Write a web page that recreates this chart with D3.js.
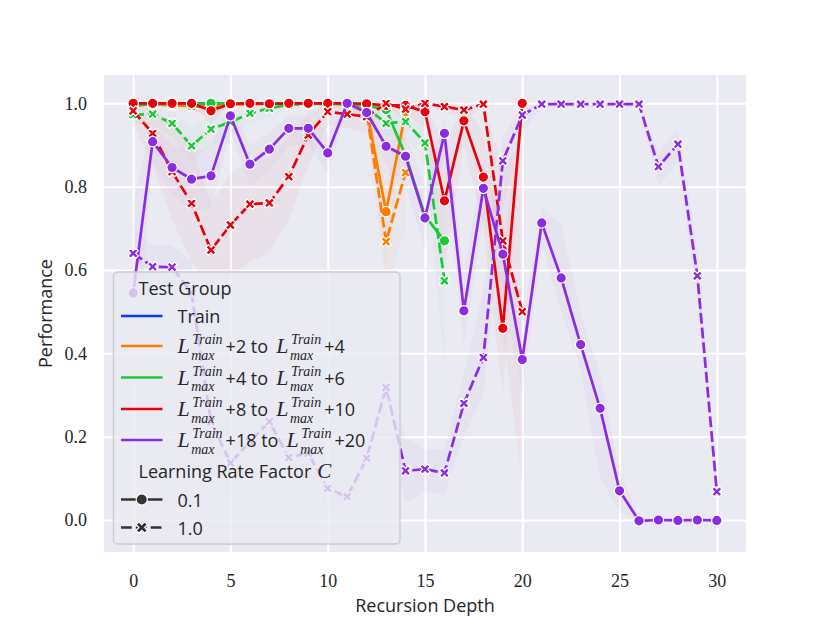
<!DOCTYPE html>
<html><head><meta charset="utf-8">
<script src="https://cdn.jsdelivr.net/npm/d3@7"></script>
<style>html,body{margin:0;padding:0;background:#fff;}svg{display:block;}</style>
</head><body>
<svg id="chart" width="830" height="623"></svg>
<script>
// ---------- data ----------
const xTicks = [0, 5, 10, 15, 20, 25, 30];
const yTicks = [0.0, 0.2, 0.4, 0.6, 0.8, 1.0];
const groups = ["Train", "+2 to +4", "+4 to +6", "+8 to +10", "+18 to +20"];
const groupLo = [null, 2, 4, 8, 18];
const groupHi = [null, 4, 6, 10, 20];
const rateFactors = ["0.1", "1.0"];

const trainC01 = [1, 1, 1, 1, 1, 1, 1, 1, 1, 1, 1];
const trainC10 = [1, 1, 1, 1, 1, 1, 1, 1, 1, 1, 1];
const orangeC01 = [1.0, 0.998, 0.997, 0.995, 0.993, 0.998, 0.999, 1, 1, 1, 1, 0.999, 0.985, 0.74, 0.98];
const orangeC10 = [0.995, 0.997, 0.996, 0.993, 0.99, 0.997, 0.998, 0.999, 1, 1, 1, 0.998, 0.98, 0.668, 0.834];
const greenC01 = [0.995, 0.998, 0.999, 0.999, 1.0, 1, 1, 1, 1, 1, 1, 1, 0.995, 0.985, 0.875, 0.73, 0.67];
const greenC10 = [0.973, 0.974, 0.952, 0.898, 0.938, 0.955, 0.976, 0.988, 0.997, 0.998, 0.999, 0.998, 0.99, 0.952, 0.956, 0.905, 0.574];
const redC01 = [1.0, 1.0, 1.0, 1.0, 0.982, 0.999, 1.0, 0.999, 1.0, 1.0, 1.0, 1.0, 0.999, 0.995, 0.995, 0.98, 0.766, 0.958, 0.823, 0.46, 1.0];
const redC10 = [0.982, 0.928, 0.836, 0.76, 0.648, 0.708, 0.758, 0.761, 0.824, 0.924, 0.98, 0.974, 0.968, 1.0, 0.986, 1.0, 0.992, 0.984, 0.998, 0.67, 0.50];
const purpleC01 = [0.545, 0.908, 0.846, 0.818, 0.826, 0.97, 0.854, 0.89, 0.94, 0.94, 0.881, 1.0, 0.978, 0.897, 0.873, 0.725, 0.928, 0.502, 0.796, 0.638, 0.385, 0.713, 0.581, 0.421, 0.268, 0.07, -0.002, 0.0, -0.001, 0.0, -0.001];
const purpleC10 = [0.64, 0.608, 0.607, 0.545, 0.236, 0.137, 0.188, 0.236, 0.150, 0.160, 0.076, 0.056, 0.148, 0.318, 0.118, 0.122, 0.113, 0.28, 0.39, 0.862, 0.972, 0.998, 0.998, 0.998, 0.998, 0.998, 0.998, 0.848, 0.902, 0.586, 0.068];

// confidence bands (estimated)
const orangeC01Lo = [1, 0.99, 0.99, 0.99, 0.98, 0.99, 0.99, 1, 1, 1, 1, 0.99, 0.96, 0.6, 0.95];
const orangeC01Hi = [1, 1, 1, 1, 1, 1, 1, 1, 1, 1, 1, 1, 1, 0.88, 1];
const orangeC10Lo = [0.98, 0.99, 0.99, 0.98, 0.97, 0.99, 0.99, 0.99, 1, 1, 1, 0.99, 0.95, 0.55, 0.7];
const orangeC10Hi = [1, 1, 1, 1, 1, 1, 1, 1, 1, 1, 1, 1, 1, 0.8, 0.95];
const greenC10Lo = [0.95, 0.95, 0.92, 0.86, 0.9, 0.92, 0.95, 0.97, 0.99, 0.99, 0.99, 0.99, 0.98, 0.92, 0.93, 0.85, 0.37];
const greenC10Hi = [0.99, 0.99, 0.98, 0.94, 0.97, 0.98, 0.99, 1, 1, 1, 1, 1, 1, 0.98, 0.98, 0.95, 0.75];
const redC01Lo = [1, 1, 1, 1, 0.95, 1, 1, 1, 1, 1, 1, 1, 1, 0.98, 0.98, 0.94, 0.6, 0.9, 0.7, 0.3, 0.98];
const redC01Hi = [1, 1, 1, 1, 1, 1, 1, 1, 1, 1, 1, 1, 1, 1, 1, 1, 0.9, 1, 0.93, 0.65, 1];
const redC10Lo = [0.95, 0.85, 0.72, 0.62, 0.55, 0.58, 0.62, 0.64, 0.72, 0.85, 0.95, 0.94, 0.93, 0.99, 0.96, 0.99, 0.98, 0.96, 0.99, 0.45, 0.09];
const redC10Hi = [1, 0.99, 0.95, 0.9, 0.76, 0.83, 0.87, 0.87, 0.92, 0.98, 1, 1, 1, 1, 1, 1, 1, 1, 1, 0.85, 0.9];
const purpleC01Lo = [0.3, 0.86, 0.78, 0.74, 0.75, 0.93, 0.8, 0.84, 0.9, 0.9, 0.83, 0.99, 0.95, 0.85, 0.8, 0.65, 0.87, 0.42, 0.72, 0.55, 0.3, 0.66, 0.5, 0.36, 0.1, 0.02, -0.005, -0.005, -0.005, -0.005, -0.005];
const purpleC01Hi = [0.77, 0.95, 0.9, 0.88, 0.9, 1, 0.9, 0.93, 0.97, 0.97, 0.93, 1, 1, 0.94, 0.93, 0.8, 0.97, 0.6, 0.86, 0.72, 0.48, 0.75, 0.71, 0.5, 0.35, 0.12, 0.005, 0.005, 0.005, 0.005, 0.005];
const purpleC10Lo = [0.58, 0.56, 0.55, 0.45, 0.15, 0.05, 0.12, 0.17, 0.1, 0.1, 0.03, 0.02, 0.1, 0.25, 0.04, 0.07, 0.06, 0.2, 0.3, 0.75, 0.93, 0.99, 0.99, 0.99, 0.99, 0.99, 0.99, 0.8, 0.86, 0.53, 0.03];
const purpleC10Hi = [0.7, 0.66, 0.66, 0.62, 0.32, 0.22, 0.26, 0.3, 0.2, 0.22, 0.13, 0.1, 0.2, 0.36, 0.2, 0.17, 0.17, 0.35, 0.55, 0.92, 1, 1, 1, 1, 1, 1, 1, 0.88, 0.94, 0.65, 0.1];

const colors = ["#023eff", "#ff7c00", "#1ac938", "#e8000b", "#8b2be2"];

// series table built from arrays
const series = [
  {g: 0, c: 0, v: trainC01}, {g: 0, c: 1, v: trainC10},
  {g: 1, c: 0, v: orangeC01, lo: orangeC01Lo, hi: orangeC01Hi}, {g: 1, c: 1, v: orangeC10, lo: orangeC10Lo, hi: orangeC10Hi},
  {g: 2, c: 0, v: greenC01}, {g: 2, c: 1, v: greenC10, lo: greenC10Lo, hi: greenC10Hi},
  {g: 3, c: 0, v: redC01, lo: redC01Lo, hi: redC01Hi}, {g: 3, c: 1, v: redC10, lo: redC10Lo, hi: redC10Hi},
  {g: 4, c: 0, v: purpleC01, lo: purpleC01Lo, hi: purpleC01Hi}, {g: 4, c: 1, v: purpleC10, lo: purpleC10Lo, hi: purpleC10Hi}
];

// ---------- layout ----------
const svg = d3.select("#chart");
const L = 104, R = 746, T = 75, B = 552;
const x = d3.scaleLinear().domain([-1.5, 31.5]).range([L, R]);
const y = d3.scaleLinear().domain([-0.0768, 1.068]).range([B, T]);
const serif = "'Liberation Serif', 'DejaVu Serif', serif";
const sans = "'Open Sans', 'DejaVu Sans', sans-serif";

svg.append("rect").attr("x", L).attr("y", T).attr("width", R - L).attr("height", B - T).attr("fill", "#eaeaf2");

// grid
const gx = svg.append("g").attr("transform", `translate(0,${B})`)
  .call(d3.axisBottom(x).tickValues(xTicks).tickSize(-(B - T)).tickFormat(""));
const gy = svg.append("g").attr("transform", `translate(${L},0)`)
  .call(d3.axisLeft(y).tickValues(yTicks).tickSize(-(R - L)).tickFormat(""));
[gx, gy].forEach(g => { g.select(".domain").remove(); g.selectAll("line").attr("stroke", "#fff").attr("stroke-width", 2); });

// tick labels
const ax = svg.append("g").attr("transform", `translate(0,${B})`)
  .call(d3.axisBottom(x).tickValues(xTicks).tickSize(0).tickPadding(22).tickFormat(d3.format("d")));
const ay = svg.append("g").attr("transform", `translate(${L},0)`)
  .call(d3.axisLeft(y).tickValues(yTicks).tickSize(0).tickPadding(17).tickFormat(d3.format(".1f")));
[ax, ay].forEach(g => { g.select(".domain").remove();
  g.selectAll("text").attr("font-family", serif).attr("font-size", 18).attr("fill", "#262626"); });

// axis labels
svg.append("text").attr("x", (L + R) / 2).attr("y", 612).attr("text-anchor", "middle")
  .attr("font-family", sans).attr("font-size", 18).attr("fill", "#262626").text("Recursion Depth");
svg.append("text").attr("transform", `translate(51.5,${(T + B) / 2}) rotate(-90)`).attr("text-anchor", "middle")
  .attr("font-family", sans).attr("font-size", 18).attr("fill", "#262626").text("Performance");

// clip
svg.append("clipPath").attr("id", "clip").append("rect").attr("x", L).attr("y", T).attr("width", R - L).attr("height", B - T);
const plot = svg.append("g").attr("clip-path", "url(#clip)");

// bands
const area = d3.area().x((d, i) => x(i)).y0(d => y(d[0])).y1(d => y(d[1]));
series.forEach(s => {
  if (!s.lo) return;
  plot.append("path").datum(s.lo.map((l, i) => [l, s.hi[i]]))
    .attr("d", area).attr("fill", colors[s.g]).attr("fill-opacity", 0.035).attr("stroke", "none");
});

// marker X path
function xMarker(h) {
  const pts = [[-1,-3],[-1,-1],[-3,-1],[-3,1],[-1,1],[-1,3],[1,3],[1,1],[3,1],[3,-1],[1,-1],[1,-3]];
  const c = Math.SQRT1_2;
  return "M" + pts.map(([a, b]) => {
    const px = (a * c - b * c) * h / 3, py = (a * c + b * c) * h / 3;
    return px.toFixed(2) + "," + py.toFixed(2);
  }).join("L") + "Z";
}
const XPATH = xMarker(5.4);
const lw = 2.7, dash = "10.8,4.05";

const line = d3.line().x((d, i) => x(i)).y(d => y(d));
series.forEach(s => {
  const g = plot.append("g");
  g.append("path").datum(s.v).attr("d", line).attr("fill", "none").attr("stroke", colors[s.g])
    .attr("stroke-width", lw).attr("stroke-dasharray", s.c === 1 ? dash : null).attr("stroke-linejoin", "round");
  if (s.c === 0) {
    g.selectAll("circle").data(s.v).join("circle").attr("cx", (d, i) => x(i)).attr("cy", d => y(d))
      .attr("r", 5.2).attr("fill", colors[s.g]).attr("stroke", "#fff").attr("stroke-width", 1.2);
  } else {
    g.selectAll("path.m").data(s.v).join("path").attr("class", "m").attr("d", XPATH)
      .attr("transform", (d, i) => `translate(${x(i)},${y(d)})`)
      .attr("fill", colors[s.g]).attr("stroke", "#fff").attr("stroke-width", 1.2);
  }
});

// ---------- legend ----------
const lg = svg.append("g");
lg.append("rect").attr("x", 113.5).attr("y", 272).attr("width", 286.5).attr("height", 272).attr("rx", 4)
  .attr("fill", "#eaeaf2").attr("fill-opacity", 0.8).attr("stroke", "#cccccc").attr("stroke-width", 1.3);
const txtCol = "#262626";
function sansText(xp, yb, t) {
  return lg.append("text").attr("x", xp).attr("y", yb).attr("font-family", sans).attr("font-size", 18).attr("fill", txtCol).text(t);
}
sansText(138.5, 295, "Test Group");
const rowsY = [316, 346, 377.5, 409, 440];
const hx0 = 121, hx1 = 162.5, tx = 177.5;

// one text element per math row, pieces positioned as tspans
function mathRow(xp, yc, a, b) {
  const t = lg.append("text").attr("fill", txtCol);
  let cx = xp;
  function Lpart() {
    const l = t.append("tspan").attr("x", cx).attr("y", yc + 7).attr("font-family", serif).attr("font-style", "italic")
      .attr("font-size", 22).text("L");
    const sx = cx + l.node().getComputedTextLength() + 2.5;
    const s1 = t.append("tspan").attr("x", sx).attr("y", yc - 2).attr("font-family", serif).attr("font-style", "italic")
      .attr("font-size", 14).text("Train");
    const s2 = t.append("tspan").attr("x", sx - 1).attr("y", yc + 13.5).attr("font-family", serif).attr("font-style", "italic")
      .attr("font-size", 14).text("max");
    cx = sx + Math.max(s1.node().getComputedTextLength(), s2.node().getComputedTextLength()) + 3;
  }
  function sansPart(str, gapAfter) {
    const p = t.append("tspan").attr("x", cx).attr("y", yc + 7).attr("font-family", sans).attr("font-size", 18).text(str);
    cx += p.node().getComputedTextLength() + gapAfter;
  }
  Lpart();
  sansPart("+" + a + " to", 8);
  Lpart();
  sansPart("+" + b, 0);
}
groups.forEach((gname, i) => {
  const yc = rowsY[i];
  lg.append("line").attr("x1", hx0).attr("x2", hx1).attr("y1", yc).attr("y2", yc)
    .attr("stroke", colors[i]).attr("stroke-width", lw);
  if (i === 0) { sansText(tx, yc + 7, gname); return; }
  mathRow(tx, yc, groupLo[i], groupHi[i]);
});
// style subtitle
const st = lg.append("text").attr("y", 478).attr("fill", txtCol);
const st1 = st.append("tspan").attr("x", 138.5).attr("font-family", sans).attr("font-size", 18).text("Learning Rate Factor");
st.append("tspan").attr("x", 138.5 + st1.node().getComputedTextLength() + 6).attr("font-family", serif).attr("font-style", "italic")
  .attr("font-size", 21).text("C");
const styleY = [499.5, 527.5];
rateFactors.forEach((r, i) => {
  const yc = styleY[i];
  lg.append("line").attr("x1", hx0).attr("x2", hx1).attr("y1", yc).attr("y2", yc)
    .attr("stroke", "#333").attr("stroke-width", lw).attr("stroke-dasharray", i === 1 ? "10.8,4.05" : null);
  if (i === 0) lg.append("circle").attr("cx", (hx0 + hx1) / 2).attr("cy", yc).attr("r", 5.6).attr("fill", "#333").attr("stroke", "#fff").attr("stroke-width", 1.2);
  else lg.append("path").attr("d", xMarker(6)).attr("transform", `translate(${(hx0 + hx1) / 2},${yc})`).attr("fill", "#333").attr("stroke", "#fff").attr("stroke-width", 1.2);
  sansText(tx, yc + 7, r);
});
</script>
</body></html>
